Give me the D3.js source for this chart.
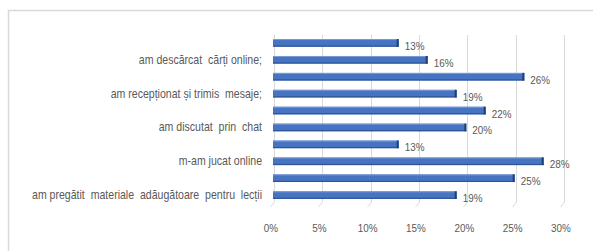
<!DOCTYPE html>
<html>
<head>
<meta charset="utf-8">
<script src="https://cdn.jsdelivr.net/npm/d3@7"></script>
<style>
  body { margin: 0; background: #fff; }
  svg { display: block; }
  text { font-family: "Liberation Sans", Arial, sans-serif; fill: #595959; }
</style>
</head>
<body>
<div id="chart"></div>
<script>
// categories top to bottom; only every other one carries a visible label
var categories = ["c1", "c2", "c3", "c4", "c5", "c6", "c7", "c8", "c9", "c10"];
var categoryLabels = ["", "am descărcat  cărți online;", "", "am recepționat și trimis  mesaje;", "",
  "am discutat  prin  chat", "", "m-am jucat online", "", "am pregătit  materiale  adăugătoare  pentru  lecții"];
var values = [13, 16, 26, 19, 22, 20, 13, 28, 25, 19];
var ticks = [0, 5, 10, 15, 20, 25, 30];

var width = 593, height = 251,
  squeeze = 0.86; // the original font is a narrow one

var svg = d3.select('#chart').append('svg')
  .attr('width', width)
  .attr('height', height);

// chart frame
svg.append('rect')
  .attr('x', 8.5).attr('y', 10.5)
  .attr('width', 600).attr('height', 260)
  .attr('fill', 'none')
  .attr('stroke', '#d9d9d9')
  .attr('stroke-width', 1.5);

var x = d3.scaleLinear().domain([0, 30]).range([273, 563]);
var y = d3.scaleBand().domain(categories).range([34, 204]).paddingInner(0.55).paddingOuter(0.3);

// gridlines, with the little 3D slant at the floor
var grid = svg.append('g');
ticks.forEach(function (t) {
  var gx = Math.round(x(t)) + 1.5;
  grid.append('path')
    .attr('d', 'M' + gx + ',35 L' + gx + ',202 L' + (gx - 4) + ',207')
    .attr('fill', 'none')
    .attr('stroke', '#d9d9d9')
    .attr('stroke-width', 1);
});

// tick labels
svg.append('g').selectAll('text')
  .data(ticks)
  .enter().append('text')
  .attr('transform', function (d) { return 'translate(' + (x(d) - 2) + ',232) scale(' + squeeze + ',1)'; })
  .attr('text-anchor', 'middle')
  .attr('font-size', 11.5)
  .text(function (d) { return d + '%'; });

// bars
var bar = svg.append('g').selectAll('g')
  .data(values)
  .enter().append('g')
  .attr('transform', function (d, i) { return 'translate(0,' + y(categories[i]) + ')'; });

var bh = y.bandwidth();
bar.append('rect')
  .attr('x', x(0))
  .attr('y', 0)
  .attr('width', function (d) { return x(d) - x(0); })
  .attr('height', bh)
  .attr('fill', '#4673c2');
bar.append('rect')
  .attr('x', x(0))
  .attr('y', 0)
  .attr('width', function (d) { return x(d) - x(0); })
  .attr('height', 1)
  .attr('fill', '#7b9bd6');
bar.append('rect')
  .attr('x', x(0))
  .attr('y', bh - 1.2)
  .attr('width', function (d) { return x(d) - x(0); })
  .attr('height', 1.2)
  .attr('fill', '#2f5597');
bar.append('rect')
  .attr('x', function (d) { return x(d) - 2; })
  .attr('y', 0)
  .attr('width', 2)
  .attr('height', bh)
  .attr('fill', '#203f73');

// value labels
bar.append('text')
  .attr('transform', function (d) { return 'translate(' + (x(d) + 6) + ',' + (bh / 2 + 7) + ') scale(' + squeeze + ',1)'; })
  .attr('font-size', 11.5)
  .text(function (d) { return d + '%'; });

// category labels
svg.append('g').selectAll('text')
  .data(categories)
  .enter().append('text')
  .attr('transform', function (d) { return 'translate(262,' + (y(d) + bh / 2 + 4) + ') scale(0.88,1)'; })
  .attr('text-anchor', 'end')
  .attr('font-size', 12)
  .style('white-space', 'pre')
  .text(function (d, i) { return categoryLabels[i]; });
</script>
</body>
</html>
